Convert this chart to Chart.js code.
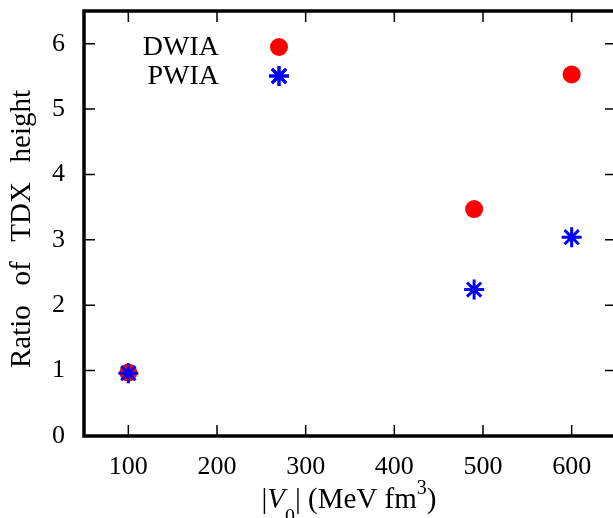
<!DOCTYPE html>
<html>
<head>
<meta charset="utf-8">
<script src="https://cdn.jsdelivr.net/npm/chart.js@4/dist/chart.umd.min.js"></script>
<style>
html,body{margin:0;padding:0;background:#fff;overflow:hidden;width:613px;height:518px;}
#wrap{position:relative;width:618px;height:518px;}
</style>
</head>
<body>
<div id="wrap"><canvas id="c"></canvas></div>
<script>
const xValues = [100, 490, 600];
const dwia = [0.97, 3.47, 5.53];
const pwia = [0.96, 2.24, 3.04];
const xTicks = [100, 200, 300, 400, 500, 600];
const yTicks = [0, 1, 2, 3, 4, 5, 6];
const seriesNames = ['DWIA', 'PWIA'];
const yTitleWords = ['Ratio', 'of', 'TDX', 'height'];

const SERIF = '"Liberation Serif", "Times New Roman", serif';

const framePlugin = {
  id: 'frame',
  afterDraw(chart) {
    const ctx = chart.ctx, a = chart.chartArea;
    const xs = chart.scales.x, ys = chart.scales.y;
    ctx.save();
    ctx.strokeStyle = '#000';
    ctx.lineWidth = 1.5;
    const tl = 11;
    ctx.beginPath();
    xTicks.forEach(v => {
      const px = xs.getPixelForValue(v);
      ctx.moveTo(px, a.bottom); ctx.lineTo(px, a.bottom - tl);
      ctx.moveTo(px, a.top); ctx.lineTo(px, a.top + tl);
    });
    yTicks.forEach(v => {
      const py = ys.getPixelForValue(v);
      ctx.moveTo(a.left, py); ctx.lineTo(a.left + tl, py);
      ctx.moveTo(a.right, py); ctx.lineTo(a.right - tl, py);
    });
    ctx.stroke();
    ctx.lineWidth = 3.5;
    ctx.strokeRect(a.left, a.top, a.right - a.left, a.bottom - a.top);

    // legend
    ctx.font = '28px ' + SERIF;
    ctx.textAlign = 'right';
    ctx.textBaseline = 'middle';
    const lx = 219, mx = 279, ly = [47, 76];
    chart.data.datasets.forEach((ds) => {
      const row = seriesNames.indexOf(ds.label);
      ctx.fillStyle = '#000';
      ctx.fillText(ds.label, lx, ly[row] + 1);
      ctx.fillStyle = ds.backgroundColor;
      ctx.strokeStyle = ds.borderColor;
      ctx.lineWidth = ds.borderWidth;
      Chart.helpers.drawPoint(ctx, {pointStyle: ds.pointStyle, radius: ds.pointRadius, borderWidth: ds.borderWidth, rotation: 0}, mx, ly[row]);
      if (ds.borderWidth) ctx.stroke();
    });

    // y title
    ctx.save();
    ctx.translate(22, 229);
    ctx.rotate(-Math.PI / 2);
    ctx.font = '29px ' + SERIF;
    ctx.fillStyle = '#000';
    ctx.textAlign = 'left';
    ctx.textBaseline = 'middle';
    const total = 278;
    const widths = yTitleWords.map(w => ctx.measureText(w).width);
    const sumW = widths.reduce((s, w) => s + w, 0);
    const gap = (total - sumW) / (yTitleWords.length - 1);
    let x = -total / 2;
    yTitleWords.forEach((w, i) => { ctx.fillText(w, x, 0); x += widths[i] + gap; });
    ctx.restore();

    // x title
    const parts = [
      {t: '|', f: '29px ' + SERIF, dy: 0},
      {t: 'V', f: 'italic 29px ' + SERIF, dy: 0},
      {t: '0', f: '20px ' + SERIF, dy: 15},
      {t: '|', f: '29px ' + SERIF, dy: 0},
      {t: ' (MeV fm', f: '29px ' + SERIF, dy: 0},
      {t: '3', f: '20px ' + SERIF, dy: -14},
      {t: ')', f: '29px ' + SERIF, dy: 0}
    ];
    ctx.textAlign = 'left';
    ctx.textBaseline = 'alphabetic';
    ctx.fillStyle = '#000';
    let tw = 0;
    parts.forEach(p => { ctx.font = p.f; p.w = ctx.measureText(p.t).width; tw += p.w; });
    let px = 349 - tw / 2;
    parts.forEach(p => { ctx.font = p.f; ctx.fillText(p.t, px, 508 + p.dy); px += p.w; });
    ctx.restore();
  }
};

function zeroPad(s) { s.paddingLeft = 0; s.paddingRight = 0; s.paddingTop = 0; s.paddingBottom = 0; }

new Chart(document.getElementById('c'), {
  type: 'scatter',
  data: {
    datasets: [
      {
        label: seriesNames[0],
        data: xValues.map((x, i) => ({x: x, y: dwia[i]})),
        pointStyle: 'circle',
        pointRadius: 9,
        backgroundColor: '#ff0000',
        borderColor: '#ff0000',
        borderWidth: 0,
        order: 1
      },
      {
        label: seriesNames[1],
        data: xValues.map((x, i) => ({x: x, y: pwia[i]})),
        pointStyle: 'star',
        pointRadius: 10,
        backgroundColor: '#0000ff',
        borderColor: '#0000ff',
        borderWidth: 3,
        order: 0
      }
    ]
  },
  options: {
    responsive: true,
    maintainAspectRatio: false,
    animation: false,
    devicePixelRatio: 1,
    layout: {autoPadding: false, padding: {top: 11, right: 2, left: 0, bottom: 0}},
    plugins: {legend: {display: false}, tooltip: {enabled: false}},
    elements: {point: {hoverRadius: 9}},
    scales: {
      x: {
        type: 'linear', min: 50, max: 650,
        afterBuildTicks: s => { s.ticks = xTicks.map(v => ({value: v})); },
        afterFit: s => { s.height = 82; zeroPad(s); },
        grid: {display: false, drawTicks: false},
        border: {display: false},
        ticks: {color: '#000', font: {family: SERIF, size: 26}, padding: 16, maxRotation: 0, autoSkip: false}
      },
      y: {
        type: 'linear', min: 0, max: 6.5,
        afterBuildTicks: s => { s.ticks = yTicks.map(v => ({value: v})); },
        afterFit: s => { s.width = 84; zeroPad(s); },
        grid: {display: false, drawTicks: false},
        border: {display: false},
        ticks: {color: '#000', font: {family: SERIF, size: 26}, padding: 19, autoSkip: false}
      }
    }
  },
  plugins: [framePlugin]
});
</script>
</body>
</html>
